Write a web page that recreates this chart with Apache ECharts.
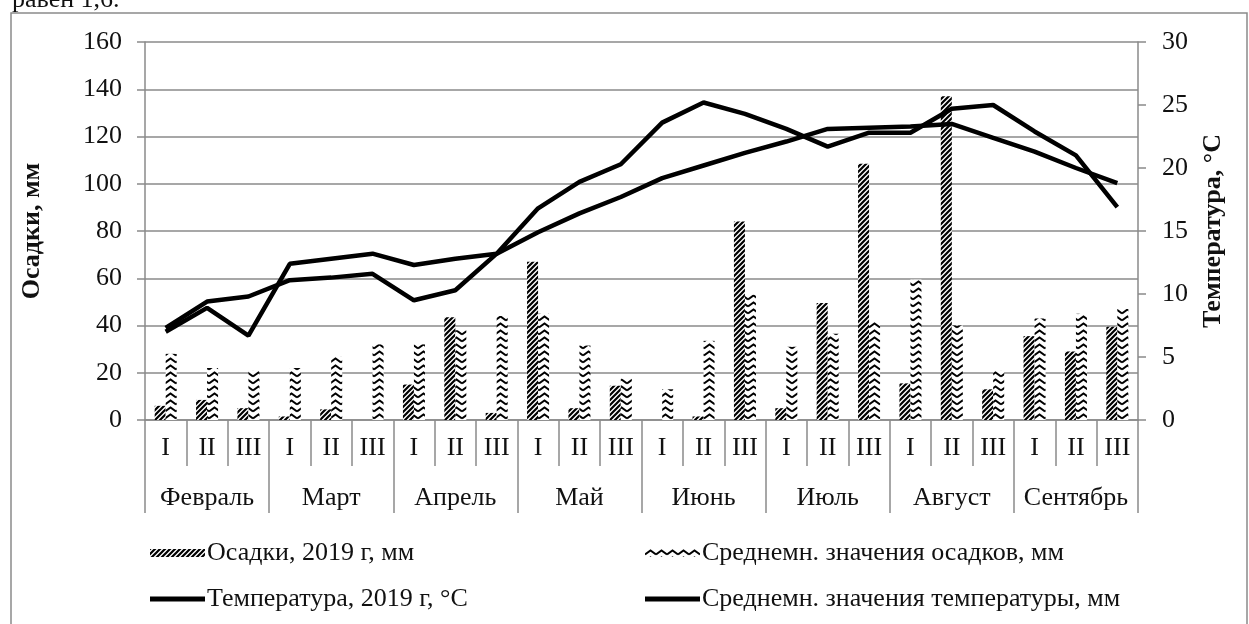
<!DOCTYPE html>
<html>
<head>
<meta charset="utf-8">
<script src="https://cdn.jsdelivr.net/npm/echarts@6/dist/echarts.min.js"></script>
<style>
html,body{margin:0;padding:0;background:#fff;}
#chart{width:1249px;height:624px;}
</style>
</head>
<body>
<div id="chart"></div>
<script>
const weeks = ['I','II','III','I','II','III','I','II','III','I','II','III','I','II','III','I','II','III','I','II','III','I','II','III'];
const months = ['Февраль','Март','Апрель','Май','Июнь','Июль','Август','Сентябрь'];
const precip2019 = [6, 8.5, 5, 1.5, 4.5, 0, 15, 43.5, 3, 67, 5, 14.5, 0, 1.5, 84, 5, 49.5, 108.5, 15.5, 137, 13, 35.5, 29, 39.5];
const precipAvg = [28, 22, 21, 22, 27, 32, 32, 38, 44, 45, 31.5, 17.5, 13, 33.5, 53, 31, 36.5, 41.5, 59.5, 40, 21, 43, 45, 47];
const temp2019 = [7.3, 9.4, 9.8, 11.1, 11.3, 11.6, 9.5, 10.3, 13.2, 16.8, 18.9, 20.3, 23.6, 25.2, 24.3, 23.1, 21.7, 22.8, 22.8, 24.7, 25.0, 22.9, 21.0, 16.9];
const tempAvg = [7.0, 8.9, 6.7, 12.4, 12.8, 13.2, 12.3, 12.8, 13.2, 14.9, 16.4, 17.7, 19.2, 20.2, 21.2, 22.1, 23.1, 23.2, 23.3, 23.5, 22.4, 21.3, 20.0, 18.8];
const leftTitle = 'Осадки, мм';
const rightTitle = 'Температура, °С';
const seriesNames = ['Осадки, 2019 г, мм', 'Среднемн. значения осадков, мм', 'Температура, 2019 г, °C', 'Среднемн. значения температуры, мм'];

function hatchPattern() {
  const c = document.createElement('canvas');
  c.width = 5; c.height = 5;
  const g = c.getContext('2d');
  g.fillStyle = '#fff'; g.fillRect(0,0,5,5);
  g.strokeStyle = '#000'; g.lineWidth = 2.2;
  g.beginPath();
  g.moveTo(-1,6); g.lineTo(6,-1);
  g.moveTo(-1,1); g.lineTo(1,-1);
  g.moveTo(4,6); g.lineTo(6,4);
  g.stroke();
  return c;
}
function chevronPattern() {
  const c = document.createElement('canvas');
  c.width = 11; c.height = 7;
  const g = c.getContext('2d');
  g.fillStyle = '#fff'; g.fillRect(0,0,11,7);
  g.strokeStyle = '#000'; g.lineWidth = 2;
  g.beginPath();
  g.moveTo(0,5.5); g.lineTo(5.5,1.5); g.lineTo(11,5.5);
  g.stroke();
  return c;
}

const FONT = 'Liberation Serif';
const GREY = '#8a8a8a';
const txt = {fontFamily: FONT, fontSize: 26, color: '#111'};

const chart = echarts.init(document.getElementById('chart'), null, {renderer: 'canvas'});
const hatch = {image: hatchPattern(), repeat: 'repeat'};
const chev = {image: chevronPattern(), repeat: 'repeat'};

function legendAt(name, left, top, h, icon) {
  return {
    data: [name], left: left, top: top, orient: 'horizontal',
    itemWidth: 55, itemHeight: h, icon: icon, selectedMode: false,
    textStyle: {fontFamily: FONT, fontSize: 26, color: '#111', padding: [0,0,0,-3]}
  };
}

chart.setOption({
  backgroundColor: '#fff',
  animation: false,
  graphic: [
    {type: 'rect', shape: {x: 11, y: 13, width: 1236, height: 640}, style: {fill: 'none', stroke: GREY, lineWidth: 1.5}, silent: true},
    {type: 'text', left: 12, top: -13, style: {text: 'равен 1,6.', font: '26px "Liberation Serif"', fill: '#111'}, silent: true}
  ],
  grid: {left: 145, right: 111, top: 42, bottom: 204, containLabel: false},
  legend: [
    legendAt(seriesNames[0], 145, 535, 8, 'rect'),
    legendAt(seriesNames[1], 640, 535, 8, 'rect'),
    legendAt(seriesNames[2], 145, 581, 5, 'rect'),
    legendAt(seriesNames[3], 640, 581, 5, 'rect')
  ],
  xAxis: [
    {
      type: 'category', data: weeks, position: 'bottom',
      axisLine: {lineStyle: {color: GREY, width: 1.5}},
      axisTick: {show: true, interval: 0, length: 46, lineStyle: {color: GREY, width: 1.5}},
      axisLabel: Object.assign({interval: 0, margin: 15}, txt),
      splitLine: {show: false}
    },
    {
      type: 'category', data: months, position: 'bottom', offset: 0,
      axisLine: {show: false},
      axisTick: {show: true, interval: 0, length: 93, lineStyle: {color: GREY, width: 1.5}},
      axisLabel: Object.assign({interval: 0, margin: 65}, txt),
      splitLine: {show: false}
    }
  ],
  yAxis: [
    {
      type: 'value', min: 0, max: 160, interval: 20, position: 'left',
      name: leftTitle, nameLocation: 'middle', nameGap: 100,
      nameTextStyle: {fontFamily: FONT, fontSize: 26, fontWeight: 'bold', color: '#111'},
      axisLine: {show: true, lineStyle: {color: GREY, width: 1.5}},
      axisTick: {show: true, length: 8, lineStyle: {color: GREY, width: 1.5}},
      axisLabel: Object.assign({margin: 23}, txt),
      splitLine: {show: true, lineStyle: {color: GREY, width: 1.5}}
    },
    {
      type: 'value', min: 0, max: 30, interval: 5, position: 'right',
      name: rightTitle, nameLocation: 'middle', nameGap: 62,
      nameTextStyle: {fontFamily: FONT, fontSize: 26, fontWeight: 'bold', color: '#111'},
      axisLine: {show: true, lineStyle: {color: GREY, width: 1.5}},
      axisTick: {show: true, length: 8, lineStyle: {color: GREY, width: 1.5}},
      axisLabel: Object.assign({margin: 24}, txt),
      splitLine: {show: false}
    }
  ],
  series: [
    {name: seriesNames[0], type: 'bar', xAxisIndex: 0, yAxisIndex: 0, data: precip2019,
     barWidth: 11, barGap: '0%', itemStyle: {color: hatch}, z: 2},
    {name: seriesNames[1], type: 'bar', xAxisIndex: 0, yAxisIndex: 0, data: precipAvg,
     barWidth: 11, barGap: '0%', itemStyle: {color: chev}, z: 2},
    {name: seriesNames[2], type: 'line', xAxisIndex: 0, yAxisIndex: 1, data: temp2019,
     symbol: 'none', lineStyle: {color: '#000', width: 4.5}, itemStyle: {color: '#000'}, z: 3},
    {name: seriesNames[3], type: 'line', xAxisIndex: 0, yAxisIndex: 1, data: tempAvg,
     symbol: 'none', lineStyle: {color: '#000', width: 4.5}, itemStyle: {color: '#000'}, z: 3}
  ]
});
</script>
</body>
</html>
